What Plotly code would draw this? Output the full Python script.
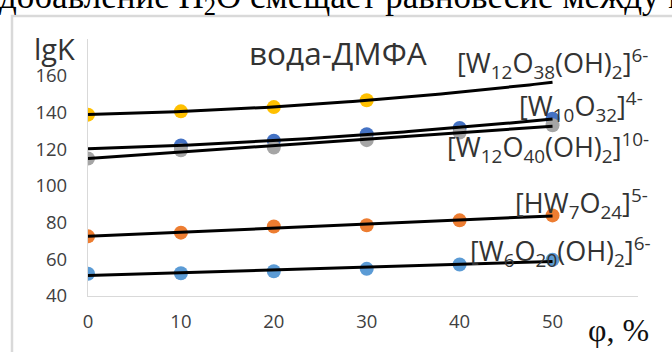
import numpy as np
import plotly.graph_objects as go

# ---- data ----
phi = [0, 10, 20, 30, 40, 50]

w12o38_x = [0, 10, 20, 30]
w12o38_y = [138.8, 140.6, 142.9, 146.6]

w10o32_x = [10, 20, 30, 40, 50]
w10o32_y = [122.0, 124.6, 128.1, 131.5, 136.6]

w12o40_x = [0, 10, 20, 30, 40, 50]
w12o40_y = [114.9, 119.4, 120.9, 124.9, 129.0, 133.0]

hw7o24_x = [0, 10, 20, 30, 40, 50]
hw7o24_y = [72.5, 74.5, 77.9, 78.5, 81.2, 83.9]

w6o20_x = [0, 10, 20, 30, 40, 50]
w6o20_y = [52.1, 52.4, 53.5, 54.8, 57.2, 59.7]

x_ticks = [0, 10, 20, 30, 40, 50]
y_ticks = [40, 60, 80, 100, 120, 140, 160]

series = [
    # x, y, color, trend degree
    (w12o38_x, w12o38_y, "#FFC000", 2),
    (w10o32_x, w10o32_y, "#4472C4", 2),
    (w12o40_x, w12o40_y, "#A5A5A5", 1),
    (w6o20_x, w6o20_y, "#5B9BD5", 1),
    (hw7o24_x, hw7o24_y, "#ED7D31", 1),
]

W, H = 672, 352
ML, MR, MT, MB = 88, 34, 39, 56
PW, PH = W - ML - MR, H - MT - MB


def px(x):
    return (x - ML) / PW


def py(y):
    return (H - MB - y) / PH


fig = go.Figure()

for xs, ys, col, deg in series:
    fig.add_trace(go.Scatter(x=xs, y=ys, mode="markers",
                             marker=dict(color=col, size=14, line=dict(width=0)),
                             showlegend=False, hoverinfo="skip"))

tx = np.linspace(0, 50, 101)
for xs, ys, col, deg in series:
    c = np.polyfit(xs, ys, deg)
    fig.add_trace(go.Scatter(x=tx, y=np.polyval(c, tx), mode="lines",
                             line=dict(color="black", width=3),
                             showlegend=False, hoverinfo="skip"))

tick_font = dict(family="Open Sans", size=18.5, color="#404040")
fig.update_xaxes(range=[0, 59.2], tickvals=x_ticks, ticktext=[str(v) for v in x_ticks],
                 showgrid=False, zeroline=False, showline=True, linecolor="#D9D9D9",
                 linewidth=1.3, ticks="outside", ticklen=9, tickcolor="rgba(0,0,0,0)",
                 tickfont=tick_font)
fig.update_yaxes(range=[40, 180], tickvals=y_ticks, ticktext=[str(v) for v in y_ticks],
                 showgrid=False, zeroline=False, showline=True, linecolor="#D9D9D9",
                 linewidth=1.3, ticks="outside", ticklen=16, tickcolor="rgba(0,0,0,0)",
                 tickfont=tick_font)

lab_font = dict(family="Open Sans", size=27, color="#333333")
annots = [
    ("lgK", 54, 49, "center", dict(family="Open Sans", size=29, color="#333333")),
    ("вода-ДМФА", 247, 52, "left", dict(family="Open Sans", size=31.5, color="#333333")),
    ("[W<sub>12</sub>O<sub>38</sub>(OH)<sub>2</sub>]<sup>6-</sup>", 455, 63, "left", lab_font),
    ("[W<sub>10</sub>O<sub>32</sub>]<sup>4-</sup>", 517, 107, "left", lab_font),
    ("[W<sub>12</sub>O<sub>40</sub>(OH)<sub>2</sub>]<sup>10-</sup>", 445, 147, "left", lab_font),
    ("[HW<sub>7</sub>O<sub>24</sub>]<sup>5-</sup>", 513, 204, "left", lab_font),
    ("[W<sub>6</sub>O<sub>20</sub>(OH)<sub>2</sub>]<sup>6-</sup>", 468, 251, "left", lab_font),
    ("φ, %", 586, 330, "left", dict(family="Liberation Serif", size=32, color="#111111")),
]
for text, x, y, xa, f in annots:
    fig.add_annotation(text=text, x=px(x), y=py(y), xref="paper", yref="paper",
                       xanchor=xa, yanchor="middle", showarrow=False, font=f)

# cropped document text above the chart
fig.add_annotation(text="добавление H<sub>2</sub>O смещает равновесие между ним",
                   x=px(-3), y=py(22), xref="paper", yref="paper",
                   xanchor="left", yanchor="bottom", showarrow=False,
                   font=dict(family="Liberation Serif", size=35, color="black"))

# chart-area border
fig.add_shape(type="rect", xref="paper", yref="paper",
              x0=px(12), x1=px(720), y0=py(420), y1=py(16),
              line=dict(color="#D9D9D9", width=2.5), fillcolor="rgba(0,0,0,0)")

fig.update_layout(width=W, height=H, margin=dict(l=ML, r=MR, t=MT, b=MB),
                  paper_bgcolor="white", plot_bgcolor="white")

fig.write_html("out.html")
